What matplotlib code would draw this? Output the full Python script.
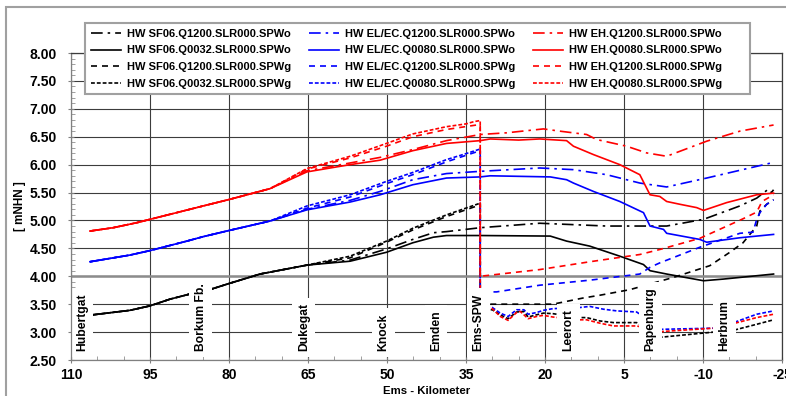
import numpy as np
import matplotlib
matplotlib.use("Agg")
import matplotlib.pyplot as plt
from matplotlib.patches import Rectangle

plt.rcParams['font.family'] = ['Liberation Sans', 'DejaVu Sans']
plt.rcParams['font.weight'] = 'bold'
plt.rcParams['axes.unicode_minus'] = False

# --- data (Ems-Kilometer, HW in mNHN) ---
km_sf_up = [106.4, 105.8, 98.8, 95.0, 91.2, 87.5, 83.0, 80.0, 74.1, 65.2]
hw_sf_up = [3.30, 3.31, 3.39, 3.47, 3.59, 3.68, 3.78, 3.87, 4.04, 4.20]

km_sf_q1200_o = [57.0, 50.1, 45.1, 41.2, 38.7, 32.3, 21.0, 8.3, -3.1, -10.1, -17.0, -20.2, -22.4, -23.0, -23.4]
hw_sf_q1200_o = [4.29, 4.49, 4.66, 4.78, 4.80, 4.87, 4.95, 4.90, 4.90, 5.02, 5.26, 5.40, 5.56, 5.50, 5.55]
km_sf_q0032_o = [57.0, 50.1, 45.1, 41.2, 38.7, 32.3, 19.0, 15.9, 11.5, 5.8, 1.3, 0.06, -3.1, -10.1, -13.9, -23.4]
hw_sf_q0032_o = [4.27, 4.43, 4.60, 4.70, 4.73, 4.73, 4.72, 4.63, 4.54, 4.36, 4.21, 4.10, 4.04, 3.92, 3.95, 4.04]
km_sf_q1200_g = [57.0, 50.1, 45.1, 38.7, 32.3, 32.3, 30.0, 18.5, 12.8, 9.6, 3.9, -4.4, -11.3, -15.1, -17.6, -20.2, -20.8, -22.1, -23.4]
hw_sf_q1200_g = [4.33, 4.61, 4.83, 5.07, 5.28, 3.50, 3.50, 3.50, 3.61, 3.66, 3.76, 3.98, 4.19, 4.43, 4.60, 4.90, 5.17, 5.29, 5.37]
km_sf_q0032_g = [57.0, 50.1, 45.1, 38.7, 32.3, 32.3, 30.0, 28.5, 27.0, 25.4, 24.0, 23.2, 21.6, 20.3, 18.5, 13.4, 12.1, 9.6, 7.0, 2.6, -2.2, -12.0, -16.1, -20.2, -23.4]
hw_sf_q0032_g = [4.36, 4.63, 4.86, 5.10, 5.31, 3.40, 3.40, 3.31, 3.24, 3.36, 3.37, 3.27, 3.31, 3.34, 3.33, 3.26, 3.26, 3.20, 3.17, 3.17, 2.91, 3.00, 3.04, 3.14, 3.22]

km_el_up = [106.4, 98.8, 95.0, 88.0, 84.9, 80.0, 72.2]
hw_el_up = [4.26, 4.38, 4.46, 4.63, 4.71, 4.82, 4.99]

km_el_q1200_o = [65.2, 57.0, 51.3, 45.1, 38.7, 32.3, 21.0, 14.6, 8.3, 2.0, -3.1, -10.7, -23.4]
hw_el_q1200_o = [5.20, 5.36, 5.52, 5.73, 5.84, 5.88, 5.94, 5.91, 5.82, 5.67, 5.60, 5.76, 6.04]
km_el_q0080_o = [65.2, 57.0, 51.3, 45.1, 38.7, 32.3, 30.4, 19.0, 15.9, 14.6, 10.8, 5.8, 1.3, 0.06, -2.5, -3.1, -9.4, -10.7, -17.0, -23.4]
hw_el_q0080_o = [5.19, 5.33, 5.46, 5.64, 5.76, 5.78, 5.80, 5.78, 5.73, 5.67, 5.52, 5.34, 5.14, 4.90, 4.84, 4.77, 4.66, 4.61, 4.69, 4.75]
km_el_q1200_g = [65.2, 57.0, 50.1, 45.1, 38.7, 34.9, 32.3, 32.3, 29.2, 21.0, 11.5, 2.0, 0.06, -1.8, -9.4, -17.0, -19.5, -20.2, -20.8, -22.1, -23.4]
hw_el_q1200_g = [5.22, 5.42, 5.66, 5.82, 6.05, 6.17, 6.25, 3.72, 3.72, 3.84, 3.93, 4.04, 4.16, 4.24, 4.52, 4.77, 4.79, 5.02, 5.14, 5.29, 5.37]
km_el_q0080_g = [65.2, 57.0, 50.1, 45.1, 38.7, 34.9, 32.3, 32.3, 30.0, 28.5, 27.0, 25.4, 24.0, 23.2, 21.6, 20.3, 18.5, 13.4, 11.5, 8.9, 6.4, 2.6, -2.2, -12.0, -16.1, -20.2, -23.4]
hw_el_q0080_g = [5.26, 5.46, 5.70, 5.86, 6.09, 6.20, 6.28, 3.44, 3.44, 3.34, 3.28, 3.40, 3.40, 3.32, 3.35, 3.39, 3.42, 3.44, 3.46, 3.41, 3.38, 3.36, 3.05, 3.07, 3.18, 3.32, 3.38]

km_eh_up = [106.4, 102.0, 97.5, 95.0, 91.2, 84.9, 80.0, 72.2]
hw_eh_up = [4.81, 4.87, 4.96, 5.02, 5.11, 5.26, 5.375, 5.57]

km_eh_q1200_o = [65.2, 57.0, 51.3, 45.1, 38.7, 32.3, 27.3, 20.3, 17.2, 12.1, 10.2, 4.5, 0.7, -3.1, -10.7, -17.0, -23.4]
hw_eh_q1200_o = [5.89, 6.03, 6.13, 6.27, 6.43, 6.54, 6.57, 6.64, 6.60, 6.54, 6.45, 6.33, 6.21, 6.15, 6.42, 6.60, 6.71]
km_eh_q0080_o = [65.2, 57.0, 51.3, 45.1, 38.7, 32.3, 30.4, 25.0, 21.0, 15.9, 14.6, 10.8, 5.8, 2.0, 0.06, -1.8, -3.1, -5.6, -8.8, -10.1, -14.5, -20.2, -23.4]
hw_eh_q0080_o = [5.87, 6.00, 6.08, 6.25, 6.38, 6.43, 6.46, 6.44, 6.46, 6.43, 6.33, 6.18, 6.00, 5.82, 5.46, 5.43, 5.34, 5.29, 5.23, 5.18, 5.32, 5.46, 5.49]
km_eh_q1200_g = [65.2, 57.0, 50.1, 45.1, 38.7, 33.0, 32.3, 32.3, 21.0, 11.5, 2.0, -1.8, -9.4, -17.6, -20.2, -21.2, -23.4]
hw_eh_q1200_g = [5.92, 6.12, 6.33, 6.50, 6.63, 6.71, 6.72, 4.00, 4.12, 4.26, 4.39, 4.48, 4.68, 5.03, 5.15, 5.34, 5.46]
km_eh_q0080_g = [65.2, 57.0, 50.1, 45.1, 38.7, 35.0, 33.5, 32.3, 32.3, 30.0, 28.5, 27.0, 25.4, 24.7, 23.2, 21.6, 20.3, 18.5, 13.4, 12.1, 9.6, 7.0, 2.6, -2.2, -12.0, -16.1, -20.2, -23.4]
hw_eh_q0080_g = [5.93, 6.15, 6.38, 6.55, 6.68, 6.73, 6.77, 6.79, 3.42, 3.42, 3.28, 3.21, 3.35, 3.37, 3.24, 3.28, 3.30, 3.27, 3.22, 3.22, 3.16, 3.11, 3.11, 3.01, 3.07, 3.16, 3.26, 3.32]

places = ["Hubertgat", "Borkum Fb.", "Dukegat", "Knock", "Emden", "Ems-SPW", "Leerort", "Papenburg", "Herbrum"]
places_km = [107.9, 85.4, 65.8, 50.7, 40.7, 32.7, 15.6, 0.0, -14.1]

dashdot = (0, (7, 3, 1.5, 3))
dashed = (0, (3.6, 3))
short = (0, (2.3, 1.2))

series = [
    ("HW SF06.Q1200.SLR000.SPWo", km_sf_up + km_sf_q1200_o, hw_sf_up + hw_sf_q1200_o, "black", dashdot),
    ("HW SF06.Q0032.SLR000.SPWo", km_sf_up + km_sf_q0032_o, hw_sf_up + hw_sf_q0032_o, "black", "-"),
    ("HW SF06.Q1200.SLR000.SPWg", km_sf_up + km_sf_q1200_g, hw_sf_up + hw_sf_q1200_g, "black", dashed),
    ("HW SF06.Q0032.SLR000.SPWg", km_sf_up + km_sf_q0032_g, hw_sf_up + hw_sf_q0032_g, "black", short),
    ("HW EL/EC.Q1200.SLR000.SPWo", km_el_up + km_el_q1200_o, hw_el_up + hw_el_q1200_o, "#0000ff", dashdot),
    ("HW EL/EC.Q0080.SLR000.SPWo", km_el_up + km_el_q0080_o, hw_el_up + hw_el_q0080_o, "#0000ff", "-"),
    ("HW EL/EC.Q1200.SLR000.SPWg", km_el_up + km_el_q1200_g, hw_el_up + hw_el_q1200_g, "#0000ff", dashed),
    ("HW EL/EC.Q0080.SLR000.SPWg", km_el_up + km_el_q0080_g, hw_el_up + hw_el_q0080_g, "#0000ff", short),
    ("HW EH.Q1200.SLR000.SPWo", km_eh_up + km_eh_q1200_o, hw_eh_up + hw_eh_q1200_o, "#ff0000", dashdot),
    ("HW EH.Q0080.SLR000.SPWo", km_eh_up + km_eh_q0080_o, hw_eh_up + hw_eh_q0080_o, "#ff0000", "-"),
    ("HW EH.Q1200.SLR000.SPWg", km_eh_up + km_eh_q1200_g, hw_eh_up + hw_eh_q1200_g, "#ff0000", dashed),
    ("HW EH.Q0080.SLR000.SPWg", km_eh_up + km_eh_q0080_g, hw_eh_up + hw_eh_q0080_g, "#ff0000", short),
]

fig = plt.figure(figsize=(7.86, 3.96), dpi=100)
ax = fig.add_axes([71/786, 1-360/396, (782-71)/786, (360-53)/396])

ax.set_xlim(110, -25)
ax.set_ylim(2.5, 8.0)
ax.set_xticks(np.arange(110, -26, -15))
ax.set_xticks(np.arange(110, -26, -5), minor=True)
ax.set_yticks(np.arange(2.5, 8.01, 0.5))
ax.set_yticks(np.arange(2.5, 8.01, 0.1), minor=True)
ax.set_yticklabels(["%.2f" % v for v in np.arange(2.5, 8.01, 0.5)])
ax.grid(True, which='major', color='#3c3c3c', lw=0.8, zorder=0)
ax.set_axisbelow(True)
ax.axhline(4.0, color='#8c8c8c', lw=1.8, zorder=1)

ax.tick_params(axis='y', which='major', direction='inout', length=5, width=0.8,
               color='#808080', labelsize=10, pad=7.5)
ax.tick_params(axis='x', which='major', direction='inout', length=5, width=0.8,
               color='#808080', labelsize=10, pad=3.5)
ax.tick_params(which='minor', direction='in', length=3, width=0.6, color='#909090')
for s in ax.spines.values():
    s.set_color('#808080')
    s.set_linewidth(0.9)
    s.set_zorder(6)
ax.spines['top'].set_color('#3c3c3c')
ax.spines['right'].set_color('#3c3c3c')

handles = []
for name, kms, hws, col, ls in series:
    ln, = ax.plot(kms, hws, color=col, ls=ls, lw=1.2, zorder=3, label=name)
    handles.append(ln)

for name, k in zip(places, places_km):
    ax.text(k, 2.66, name, rotation=90, ha='center', va='bottom', fontsize=8.7,
            zorder=4, bbox=dict(facecolor='white', edgecolor='none', boxstyle='square,pad=0.45'))

# legend box drawn separately (reference box is wider than its columns)
ax.add_patch(Rectangle((85/786, 1-94/396), (750-85)/786, (94-23)/396,
                       transform=fig.transFigure, facecolor='white', edgecolor='#a0a0a0',
                       lw=1.5, zorder=9, clip_on=False))
leg = ax.legend(handles=handles, ncol=3, loc='upper left',
                bbox_to_anchor=(85/786, 1-23/396), bbox_transform=fig.transFigure,
                frameon=False, fontsize=8,
                handlelength=2.7, handletextpad=0.55, columnspacing=1.6,
                labelspacing=0.62, borderpad=0.5, borderaxespad=0)
leg.set_zorder(10)

fig.text(20/786, 1-206/396, "[ mNHN ]", rotation=90, ha='center', va='center', fontsize=8.5)
fig.text(427/786, 1-391/396, "Ems - Kilometer", ha='center', va='center', fontsize=8.2)
fig.patches.append(Rectangle((6/786, -0.1), 1.0, 1.1-7/396, transform=fig.transFigure,
                             fill=False, edgecolor='#a0a0a0', lw=1.5))

fig.savefig("out.png", dpi=100)
